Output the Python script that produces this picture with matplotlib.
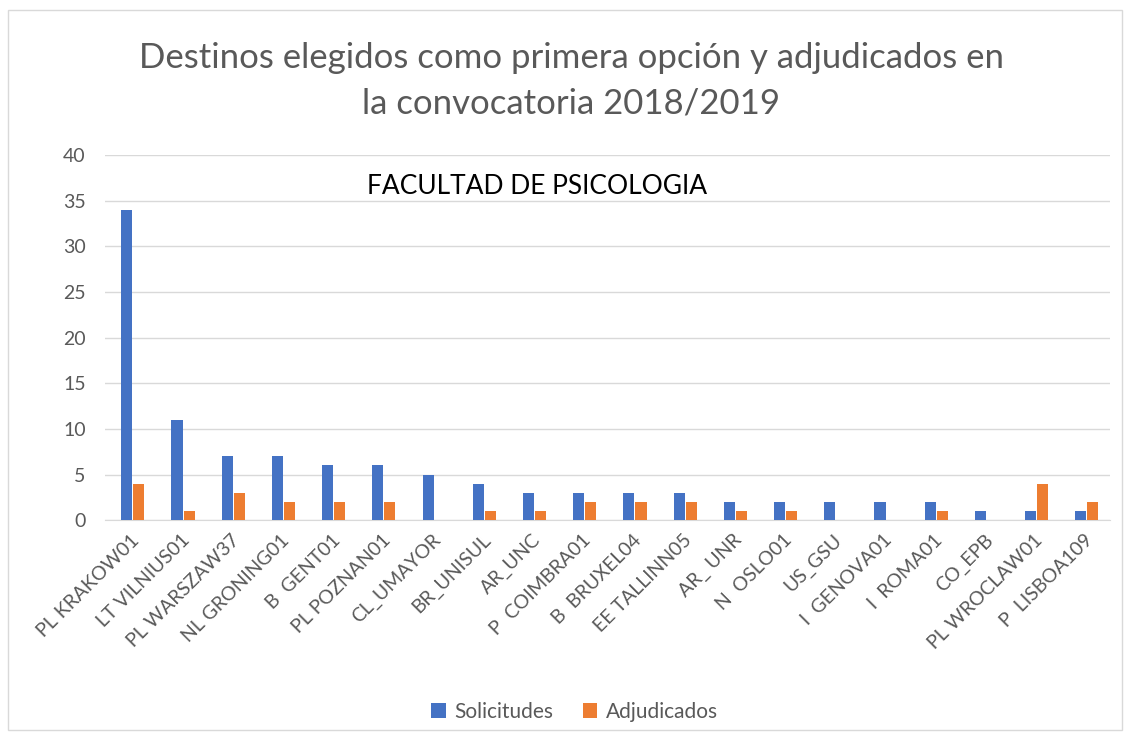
import numpy as np
import matplotlib.pyplot as plt
from matplotlib.patches import Rectangle

plt.rcParams['font.family'] = ['Lato', 'DejaVu Sans']

destinos = ['PL KRAKOW01', 'LT VILNIUS01', 'PL WARSZAW37', 'NL GRONING01', 'B  GENT01',
            'PL POZNAN01', 'CL_UMAYOR', 'BR_UNISUL', 'AR_UNC', 'P  COIMBRA01',
            'B  BRUXEL04', 'EE TALLINN05', 'AR_ UNR', 'N  OSLO01', 'US_GSU',
            'I  GENOVA01', 'I  ROMA01', 'CO_EPB', 'PL WROCLAW01', 'P  LISBOA109']
solicitudes = [34, 11, 7, 7, 6, 6, 5, 4, 3, 3, 3, 3, 2, 2, 2, 2, 2, 1, 1, 1]
adjudicados = [4, 1, 3, 2, 2, 2, 0, 1, 1, 2, 2, 2, 1, 1, 0, 0, 1, 0, 4, 2]

azul = '#4472C4'
naranja = '#ED7D31'
gris = '#595959'

fig = plt.figure(figsize=(11.31, 7.40), dpi=100)
fig.patches.append(Rectangle((0.007, 0.013), 0.985, 0.973, transform=fig.transFigure,
                             fill=False, edgecolor='#D9D9D9', linewidth=1))
ax = fig.add_axes([0.093, 0.297, 0.888, 0.4935])

x = np.arange(len(destinos))
w = 0.22
ax.bar(x - w / 2 + 0.04, solicitudes, w, color=azul, label='Solicitudes', zorder=3)
ax.bar(x + w / 2 + 0.06, adjudicados, w, color=naranja, label='Adjudicados', zorder=3)

ax.set_xlim(-0.5, len(destinos) - 0.5)
ax.set_ylim(0, 40)
ax.set_yticks(range(0, 41, 5))
ax.grid(axis='y', color='#D9D9D9', linewidth=1, zorder=0)
for s in ['top', 'right', 'left']:
    ax.spines[s].set_visible(False)
ax.spines['bottom'].set_color('#D9D9D9')
ax.tick_params(axis='both', length=0, labelsize=14, colors=gris, pad=8)
ax.tick_params(axis='y', pad=14)
ax.set_xticks(x)
ax.set_xticklabels(destinos, rotation=45, ha='right', rotation_mode='anchor')

fig.text(0.505, 0.891, 'Destinos elegidos como primera opción y adjudicados en\nla convocatoria 2018/2019',
         ha='center', va='center', fontsize=25, color=gris, linespacing=1.55)
ax.text(0.43, 36.5, 'FACULTAD DE PSICOLOGIA', transform=ax.get_yaxis_transform(),
        ha='center', va='center', fontsize=19, color='black')

fig.legend(loc='center', bbox_to_anchor=(0.508, 0.038), ncol=2, frameon=False,
           fontsize=15, handlelength=0.7, handleheight=0.7, columnspacing=1.4,
           handletextpad=0.4, labelcolor=gris)

fig.savefig('out.png', dpi=100)
